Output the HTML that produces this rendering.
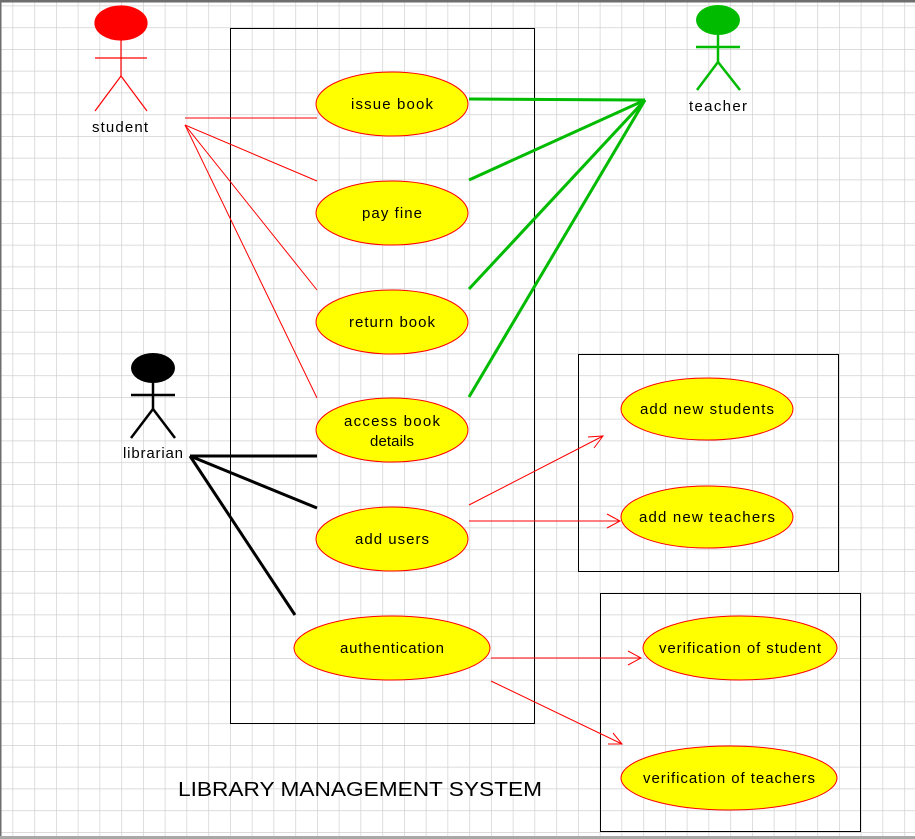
<!DOCTYPE html>
<html><head><style>
html,body{margin:0;padding:0;background:#fff;}
svg{display:block;}
text{font-family:"Liberation Sans",Arial,sans-serif;fill:#000;}
</style></head><body>
<svg width="915" height="839" viewBox="0 0 915 839" xmlns="http://www.w3.org/2000/svg">
<defs>
<pattern id="g" x="12.5" y="5.5" width="21.75" height="21.75" patternUnits="userSpaceOnUse">
<path d="M0 0V21.75M0 0H21.75" stroke="#d0d0d0" stroke-width="1.4" fill="none"/>
</pattern>
</defs>
<rect width="915" height="839" fill="#fff"/>
<rect width="915" height="839" fill="url(#g)"/>
<rect x="0" y="0" width="915" height="2.5" fill="#6e6e6e"/>
<rect x="0" y="0" width="1.5" height="839" fill="#6e6e6e"/>
<rect x="0" y="836" width="915" height="3" fill="#a8a8a8"/>

<rect x="230.5" y="28.5" width="304" height="695" fill="none" stroke="#000" stroke-width="1"/>
<rect x="578.5" y="354.5" width="260" height="217" fill="none" stroke="#000" stroke-width="1"/>
<rect x="600.5" y="593.5" width="260" height="238" fill="none" stroke="#000" stroke-width="1"/>

<g stroke="#f00" stroke-width="1.2" fill="none">
<ellipse cx="121" cy="23" rx="26" ry="17" fill="#f00"/>
<line x1="121" y1="40" x2="121" y2="76"/>
<line x1="95" y1="58" x2="147" y2="58"/>
<line x1="121" y1="76" x2="95" y2="111"/>
<line x1="121" y1="76" x2="147" y2="111"/>
</g>
<text x="120" y="132" font-size="15" text-anchor="middle" textLength="56">student</text>

<g stroke="#00bb00" stroke-width="2.5" fill="none">
<ellipse cx="718" cy="20" rx="22" ry="15" fill="#00bb00" stroke="none"/>
<line x1="718" y1="34" x2="718" y2="62"/>
<line x1="696" y1="47" x2="740" y2="47"/>
<line x1="718" y1="62" x2="697" y2="90"/>
<line x1="718" y1="62" x2="740" y2="90"/>
</g>
<text x="718" y="111" font-size="15" text-anchor="middle" textLength="58">teacher</text>

<g stroke="#000" stroke-width="2.5" fill="none">
<ellipse cx="153" cy="368" rx="22" ry="15" fill="#000" stroke="none"/>
<line x1="153" y1="382" x2="153" y2="409"/>
<line x1="131" y1="395" x2="175" y2="395"/>
<line x1="153" y1="409" x2="131" y2="438"/>
<line x1="153" y1="409" x2="175" y2="438"/>
</g>
<text x="153" y="458" font-size="15" text-anchor="middle" textLength="60">librarian</text>

<g stroke="#f00" stroke-width="1">
<line x1="185" y1="118" x2="317" y2="118"/>
<line x1="185" y1="125" x2="317" y2="181"/>
<line x1="185" y1="125" x2="317" y2="290"/>
<line x1="185" y1="125" x2="317" y2="398"/>
</g>
<g stroke="#00bb00" stroke-width="3">
<line x1="645" y1="100" x2="469" y2="99"/>
<line x1="645" y1="100" x2="469" y2="180"/>
<line x1="645" y1="100" x2="469" y2="289"/>
<line x1="645" y1="100" x2="469" y2="397"/>
</g>
<g stroke="#000" stroke-width="3">
<line x1="190" y1="456" x2="317" y2="456"/>
<line x1="190" y1="456" x2="317" y2="508"/>
<line x1="190" y1="456" x2="295" y2="615"/>
</g>
<g stroke="#f00" stroke-width="1" fill="none">
<line x1="469" y1="505" x2="603" y2="436"/>
<polyline points="588,437 603,436 594,448"/>
<line x1="469" y1="521" x2="620" y2="521"/>
<polyline points="607,514 620,521 607,528"/>
<line x1="491" y1="658" x2="641" y2="658"/>
<polyline points="628,651 641,658 628,665"/>
<line x1="491" y1="681" x2="622" y2="744"/>
<polyline points="608,744 622,744 613,733"/>
</g>

<g fill="#ffff00" stroke="#f00" stroke-width="1">
<ellipse cx="392" cy="104" rx="76" ry="32"/>
<ellipse cx="392" cy="213" rx="76" ry="32"/>
<ellipse cx="392" cy="322" rx="76" ry="32"/>
<ellipse cx="392" cy="430" rx="76" ry="32"/>
<ellipse cx="392" cy="539" rx="76" ry="32"/>
<ellipse cx="392" cy="648" rx="98" ry="32"/>
<ellipse cx="707" cy="409" rx="86" ry="31"/>
<ellipse cx="707" cy="517" rx="86" ry="31"/>
<ellipse cx="740" cy="648" rx="97" ry="32"/>
<ellipse cx="729" cy="778" rx="108" ry="32"/>
</g>
<g font-size="15" text-anchor="middle">
<text x="392" y="109" textLength="82">issue book</text>
<text x="392" y="218" textLength="60">pay fine</text>
<text x="392" y="327" textLength="86">return book</text>
<text x="392" y="426" textLength="96">access book</text>
<text x="392" y="446" textLength="44">details</text>
<text x="392" y="544" textLength="74">add users</text>
<text x="392" y="653" textLength="104">authentication</text>
<text x="707" y="414" textLength="134">add new students</text>
<text x="707" y="522" textLength="136">add new teachers</text>
<text x="740" y="653" textLength="162">verification of student</text>
<text x="729" y="783" textLength="172">verification of teachers</text>
</g>
<text x="360" y="796" font-size="20" text-anchor="middle" textLength="364" lengthAdjust="spacingAndGlyphs">LIBRARY MANAGEMENT SYSTEM</text>
</svg>
</body></html>
